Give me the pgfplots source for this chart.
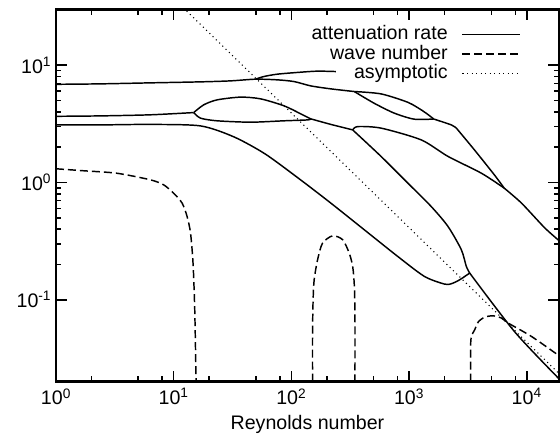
\documentclass[border=0pt]{standalone}
\usepackage{fontspec}
\setmainfont{Liberation Sans}
\usepackage{pgfplots}
\pgfplotsset{compat=1.18}

\pgfplotsset{
  att/.style={black, line width=1.1pt, smooth, tension=0.45},
  wav/.style={black, line width=1.1pt, dash pattern=on 6pt off 3pt, smooth, tension=0.45},
  asy/.style={black, line width=0.8pt, dash pattern=on 0.8pt off 2.6pt},
}

\begin{document}
\begin{tikzpicture}[font=\fontsize{14.7}{17}\selectfont]
\useasboundingbox (-42pt,-39.2pt) rectangle (378pt,286.3pt);
\begin{axis}[
  at={(0,0)}, anchor=south west,
  scale only axis, width=377.25pt, height=279.3pt,
  xmode=log, ymode=log,
  xmin=1, xmax=18800, ymin=0.02, ymax=30,
  xtick={1,10,100,1000,10000},
  xticklabels={10\textsuperscript{0},10\textsuperscript{1},10\textsuperscript{2},10\textsuperscript{3},10\textsuperscript{4}},
  minor xtick={2,5,8,20,50,80,200,500,800,2000,5000,8000},
  ytick={0.1,1,10},
  yticklabels={10\textsuperscript{-1},10\textsuperscript{0},10\textsuperscript{1}},
  xticklabel style={yshift=-1.5pt},
  tick align=inside,
  major tick length=8pt, minor tick length=4pt,
  every tick/.style={black, line width=1.2pt},
  axis line style={line width=1.9pt},
  xlabel={Reynolds number},
  xlabel style={yshift=-1pt},
  no markers,
  legend style={draw=none, fill=none, at={(0.932,0.967)}, anchor=north east,
    row sep=0pt, column sep=10pt,
    nodes={inner sep=0.5pt, text height=10.6pt, text depth=3.2pt}},
  legend cell align=right,
  legend plot pos=right,
  legend image code/.code={\draw[#1] (0pt,0pt) -- (43pt,0pt);},
]
\addlegendimage{att}
\addlegendentry{attenuation rate}
\addlegendimage{wav}
\addlegendentry{wave number}
\addlegendimage{asy}
\addlegendentry{asymptotic}

% attenuation rate, upper family
\addplot[att, forget plot] coordinates {(1,6.88)(2.37,6.94)(6.33,7.08)(16.9,7.22)(30.4,7.36)(49.7,7.61)(76.2,7.51)(105.5,7.26)(146.3,6.67)(216.6,6.29)(342.5,5.97)};
\addplot[att, forget plot] coordinates {(49.7,7.61)(58.2,8.01)(76.2,8.40)(120.3,8.73)(166.9,8.91)(239,8.84)};
\addplot[att, forget plot] coordinates {(342.5,5.97)(578,5.7)(977,4.83)(1300,4.1)(1500,3.7)(1620,3.48)};
\addplot[att, forget plot] coordinates {(342.5,5.97)(504,4.75)(747,3.91)(1105,3.47)(1620,3.48)};
\addplot[att, forget plot] coordinates {(1620,3.48)(2286,3.10)(2523,2.91)};
\addplot[att, forget plot] coordinates {(2523,2.91)(3590,1.90)(5315,1.16)(6431,0.896)};
\addplot[att, forget plot] coordinates {(6431,0.896)(9030,0.667)(14270,0.409)(19800,0.306)};

% attenuation rate, middle family
\addplot[att, forget plot] coordinates {(1,3.67)(2.37,3.70)(6.33,3.78)(14.8,3.95)};
\addplot[att, forget plot] coordinates {(14.8,3.95)(18.0,4.60)(23.4,5.07)(37.0,5.35)(54.8,5.17)(86.6,4.51)(120.3,3.85)(146.3,3.49)};
\addplot[att, forget plot] coordinates {(14.8,3.95)(16.9,3.54)(23.4,3.36)(45.1,3.27)(86.6,3.36)(137.1,3.42)(146.3,3.49)};
\addplot[att, forget plot] coordinates {(146.3,3.49)(216.6,3.13)(332,2.81)};
\addplot[att, forget plot] coordinates {(332,2.81)(366,3.00)(578,2.91)(1268,2.31)(2142,1.67)(4121,1.20)(6431,0.896)};
\addplot[att, forget plot] coordinates {(332,2.81)(578,1.67)(977,0.988)(1543,0.624)(2142,0.422)(2781,0.267)(3068,0.192)(3275,0.169)};

% attenuation rate, lowest branch
\addplot[att, forget plot] coordinates {(1,3.10)(2.37,3.10)(6.33,3.13)(16.9,3.04)(32.5,2.45)(60,1.75)(120.3,1.05)(216.6,0.667)(417,0.395)(802,0.234)(1353,0.158)(2004,0.136)(2286,0.137)(2690,0.148)(3275,0.169)};
\addplot[att, forget plot] coordinates {(3275,0.169)(8000,0.0525)(19800,0.0201)};

% wave number
\addplot[wav, forget plot] coordinates {(1,1.31)(1.71,1.26)(3.29,1.20)(6.33,1.055)(8.22,0.955)(10,0.81)(11.8,0.667)(13.0,0.513)(13.9,0.371)(14.6,0.206)(15.1,0.082)(15.5,0.02)};
\addplot[wav, forget plot] coordinates {(151.3,0.02)(151.3,0.052)(153,0.1)(156.2,0.148)(166.9,0.219)(184,0.304)(224,0.351)(273,0.325)(310,0.25)(332,0.192)(343,0.13)(347,0.072)(347,0.02)};
\addplot[wav, forget plot] coordinates {(3337,0.02)(3337,0.04)(3383,0.0487)(3612,0.0555)(3882,0.0649)(4396,0.0711)(5180,0.073)(6100,0.0698)(6955,0.0633)(10990,0.0486)(19150,0.0329)};

% asymptotic
\addplot[asy, forget plot] coordinates {(10,37.2)(19815,0.0223)};
\end{axis}
\end{tikzpicture}
\end{document}
